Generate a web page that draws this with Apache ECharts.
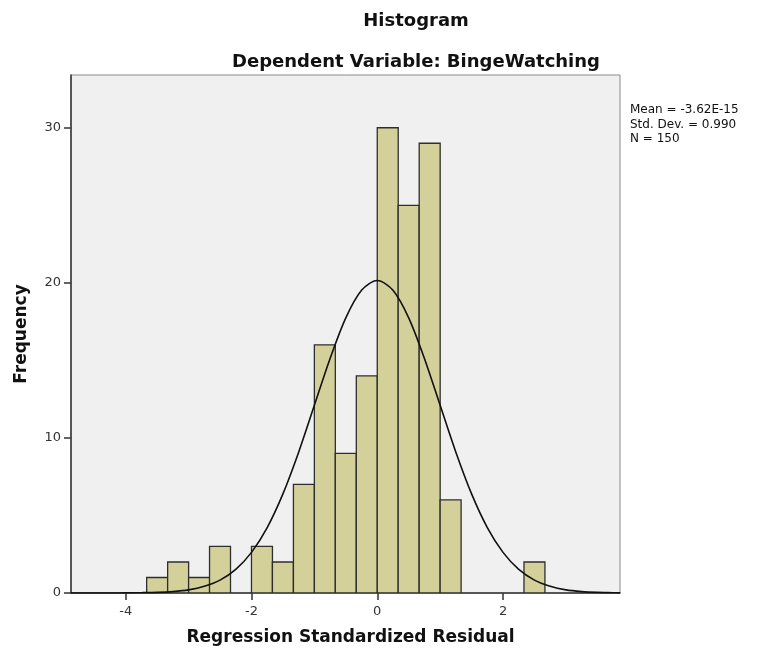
<!DOCTYPE html>
<html>
<head>
<meta charset="utf-8">
<script src="https://cdn.jsdelivr.net/npm/echarts@6/dist/echarts.min.js"></script>
<style>html,body{margin:0;padding:0;background:#fff;}#c{width:763px;height:655px;}</style>
</head>
<body>
<div id="c"></div>
<script>
// Histogram bins (left edge), bin width and frequencies
const binLeft = [-3.667, -3.333, -3.0, -2.667, -2.0, -1.667, -1.333, -1.0, -0.667, -0.333, 0.0, 0.333, 0.667, 1.0, 2.333];
const counts  = [1, 2, 1, 3, 3, 2, 7, 16, 9, 14, 30, 25, 29, 6, 2];
const binWidth = 0.3333;
// Normal curve points
const curveX = [-4.87, -4.75, -4.5, -4.25, -4, -3.75, -3.5, -3.25, -3, -2.75, -2.5, -2.25, -2, -1.75, -1.5, -1.25, -1, -0.75, -0.5, -0.25, 0, 0.25, 0.5, 0.75, 1, 1.25, 1.5, 1.75, 2, 2.25, 2.5, 2.75, 3, 3.25, 3.5, 3.75, 3.86];
const curveY = [0, 0, 0, 0, 0.01, 0.02, 0.04, 0.09, 0.2, 0.43, 0.83, 1.52, 2.62, 4.22, 6.39, 9.08, 12.1, 15.12, 17.74, 19.52, 20.15, 19.52, 17.74, 15.12, 12.1, 9.08, 6.39, 4.22, 2.62, 1.52, 0.83, 0.43, 0.2, 0.09, 0.04, 0.02, 0.01];
const xTicks = [-4, -2, 0, 2];
const yTicks = [0, 10, 20, 30];
const stats = ['Mean = -3.62E-15', 'Std. Dev. = 0.990', 'N = 150'];

const font = 'DejaVu Sans';
const chart = echarts.init(document.getElementById('c'));
chart.setOption({
  animation: false,
  backgroundColor: '#ffffff',
  title: [
    { text: 'Histogram', top: 7, left: 411, textAlign: 'center', textStyle: { fontFamily: font, fontWeight: 'bold', fontSize: 18, color: '#111' } },
    { text: 'Dependent Variable: BingeWatching', top: 48, left: 411, textAlign: 'center', textStyle: { fontFamily: font, fontWeight: 'bold', fontSize: 18, color: '#111' } }
  ],
  grid: { left: 71, right: 143, top: 75, bottom: 62, show: true, backgroundColor: '#f0f0f0', borderColor: '#8a8a8a', borderWidth: 1 },
  xAxis: {
    type: 'value', min: -4.87, max: 3.86,
    name: 'Regression Standardized Residual', nameLocation: 'middle', nameGap: 36,
    nameTextStyle: { fontFamily: font, fontWeight: 'bold', fontSize: 17, color: '#111', padding: [0, 0, 0, 10] },
    axisLine: { onZero: false, lineStyle: { color: '#333', width: 1.5 } },
    axisTick: { show: true, length: 7, lineStyle: { color: '#333', width: 1.5 }, customValues: xTicks },
    axisLabel: { customValues: xTicks, fontFamily: font, fontSize: 13, color: '#333', margin: 12,
      formatter: v => (v < 0 ? '-' + Math.abs(v) : String(v)) },
    splitLine: { show: false }
  },
  yAxis: {
    type: 'value', min: 0, max: 33.4,
    name: 'Frequency', nameLocation: 'middle', nameGap: 41, nameRotate: 90,
    nameTextStyle: { fontFamily: font, fontWeight: 'bold', fontSize: 17, color: '#111' },
    axisLine: { show: true, onZero: false, lineStyle: { color: '#333', width: 1.5 } },
    axisTick: { show: true, length: 7, lineStyle: { color: '#333', width: 1.5 }, customValues: yTicks },
    axisLabel: { customValues: yTicks, fontFamily: font, fontSize: 13, color: '#333', margin: 10 },
    splitLine: { show: false }
  },
  graphic: stats.map((t, i) => ({
    type: 'text', left: 630, top: 104 + i * 14.5,
    style: { text: t, fontFamily: font, fontSize: 12, fill: '#111' }
  })),
  series: [
    {
      type: 'custom',
      data: binLeft.map((x, i) => [x, x + binWidth, counts[i]]),
      encode: { x: [0, 1], y: 2 },
      clip: true,
      renderItem: function (params, api) {
        const p0 = api.coord([api.value(0), 0]);
        const p1 = api.coord([api.value(1), api.value(2)]);
        return {
          type: 'rect',
          shape: { x: p0[0], y: p1[1], width: p1[0] - p0[0], height: p0[1] - p1[1] },
          style: { fill: '#d4d09a', stroke: '#2e2e2e', lineWidth: 1.3 }
        };
      },
      z: 2
    },
    {
      type: 'line',
      data: curveX.map((x, i) => [x, curveY[i]]),
      smooth: 0.3,
      showSymbol: false,
      symbol: 'none',
      clip: true,
      lineStyle: { color: '#111', width: 1.6 },
      z: 3
    }
  ]
});
</script>
</body>
</html>
